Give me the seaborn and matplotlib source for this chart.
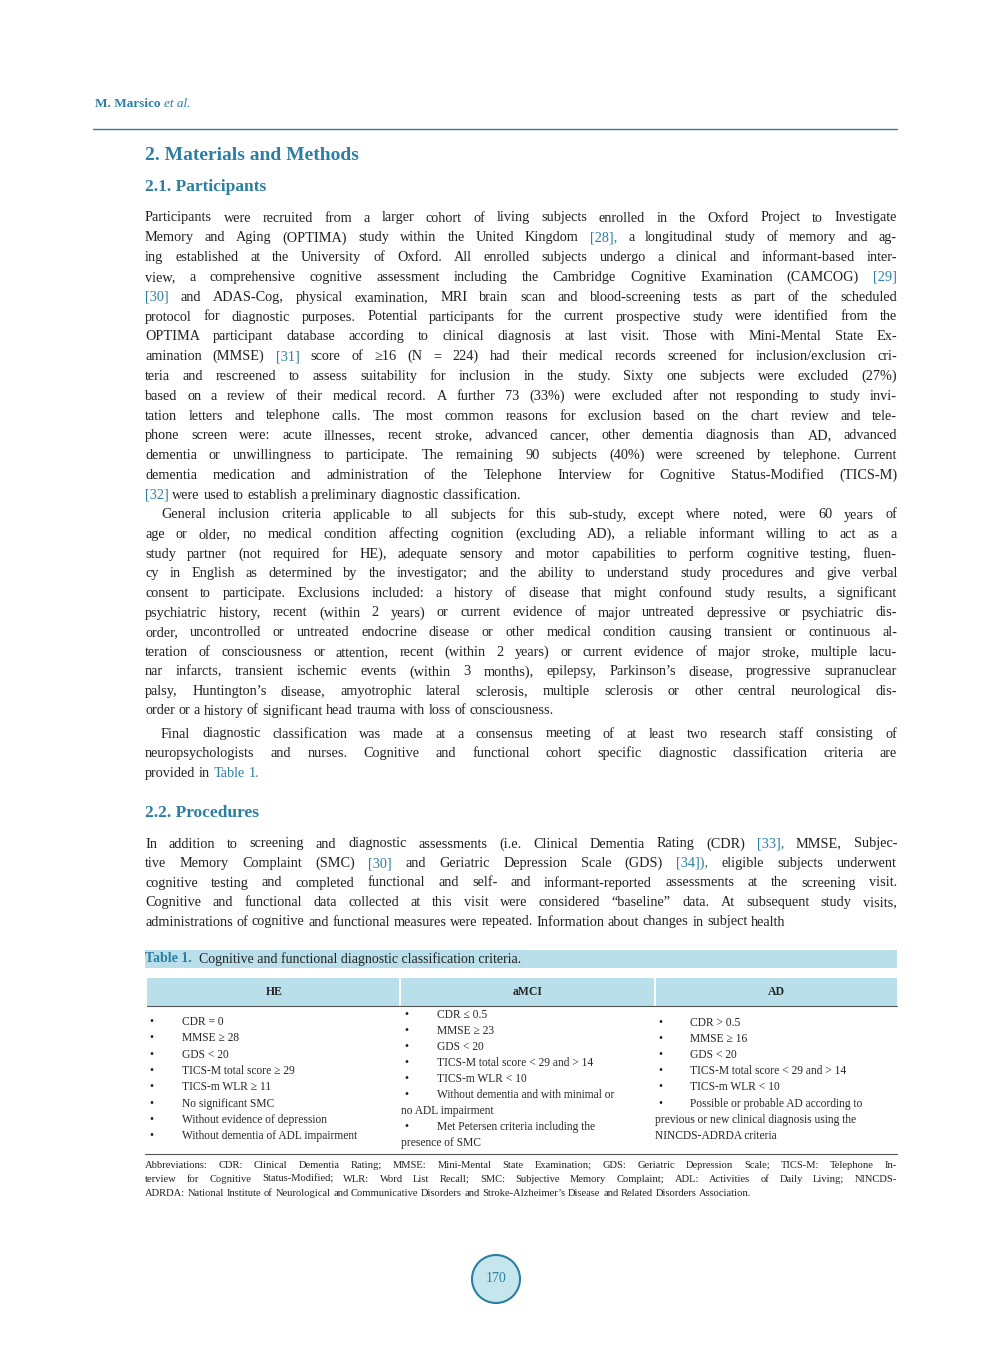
import matplotlib
matplotlib.use("Agg")
import matplotlib.pyplot as plt
from matplotlib.patches import Rectangle, Circle
import seaborn as sns

sns.set_style("white")
plt.rcParams['font.family'] = ['Liberation Serif', 'DejaVu Serif']

TEAL = "#2b7fa3"
LIGHT = "#b9dfea"

header = "M. Marsico"
section = "2. Materials and Methods"
sub1 = "2.1. Participants"
sub2 = "2.2. Procedures"

para1 = [
    "Participants were recruited from a larger cohort of living subjects enrolled in the Oxford Project to Investigate",
    "Memory and Aging (OPTIMA) study within the United Kingdom [28], a longitudinal study of memory and ag-",
    "ing established at the University of Oxford. All enrolled subjects undergo a clinical and informant-based inter-",
    "view, a comprehensive cognitive assessment including the Cambridge Cognitive Examination (CAMCOG) [29]",
    "[30] and ADAS-Cog, physical examination, MRI brain scan and blood-screening tests as part of the scheduled",
    "protocol for diagnostic purposes. Potential participants for the current prospective study were identified from the",
    "OPTIMA participant database according to clinical diagnosis at last visit. Those with Mini-Mental State Ex-",
    "amination (MMSE) [31] score of ≥16 (N = 224) had their medical records screened for inclusion/exclusion cri-",
    "teria and rescreened to assess suitability for inclusion in the study. Sixty one subjects were excluded (27%)",
    "based on a review of their medical record. A further 73 (33%) were excluded after not responding to study invi-",
    "tation letters and telephone calls. The most common reasons for exclusion based on the chart review and tele-",
    "phone screen were: acute illnesses, recent stroke, advanced cancer, other dementia diagnosis than AD, advanced",
    "dementia or unwillingness to participate. The remaining 90 subjects (40%) were screened by telephone. Current",
    "dementia medication and administration of the Telephone Interview for Cognitive Status-Modified (TICS-M)",
    "[32] were used to establish a preliminary diagnostic classification.",
]
para2 = [
    "General inclusion criteria applicable to all subjects for this sub-study, except where noted, were 60 years of",
    "age or older, no medical condition affecting cognition (excluding AD), a reliable informant willing to act as a",
    "study partner (not required for HE), adequate sensory and motor capabilities to perform cognitive testing, fluen-",
    "cy in English as determined by the investigator; and the ability to understand study procedures and give verbal",
    "consent to participate. Exclusions included: a history of disease that might confound study results, a significant",
    "psychiatric history, recent (within 2 years) or current evidence of major untreated depressive or psychiatric dis-",
    "order, uncontrolled or untreated endocrine disease or other medical condition causing transient or continuous al-",
    "teration of consciousness or attention, recent (within 2 years) or current evidence of major stroke, multiple lacu-",
    "nar infarcts, transient ischemic events (within 3 months), epilepsy, Parkinson’s disease, progressive supranuclear",
    "palsy, Huntington’s disease, amyotrophic lateral sclerosis, multiple sclerosis or other central neurological dis-",
    "order or a history of significant head trauma with loss of consciousness.",
]
para3 = [
    "Final diagnostic classification was made at a consensus meeting of at least two research staff consisting of",
    "neuropsychologists and nurses. Cognitive and functional cohort specific diagnostic classification criteria are",
    "provided in Table 1.",
]
para4 = [
    "In addition to screening and diagnostic assessments (i.e. Clinical Dementia Rating (CDR) [33], MMSE, Subjec-",
    "tive Memory Complaint (SMC) [30] and Geriatric Depression Scale (GDS) [34]), eligible subjects underwent",
    "cognitive testing and completed functional and self- and informant-reported assessments at the screening visit.",
    "Cognitive and functional data collected at this visit were considered “baseline” data. At subsequent study visits,",
    "administrations of cognitive and functional measures were repeated. Information about changes in subject health",
]
teal_tokens = {"[28],", "[29]", "[30]", "[31]", "[32]", "[33],", "[34]),", "Table", "1."}

col_names = ["HE", "aMCI", "AD"]
he_items = ["CDR = 0", "MMSE ≥ 28", "GDS < 20", "TICS-M total score ≥ 29", "TICS-m WLR ≥ 11",
            "No significant SMC", "Without evidence of depression", "Without dementia of ADL impairment"]
amci_lines = [("•", "CDR ≤ 0.5"), ("•", "MMSE ≥ 23"), ("•", "GDS < 20"),
              ("•", "TICS-M total score < 29 and > 14"), ("•", "TICS-m WLR < 10"),
              ("•", "Without dementia and with minimal or"), ("", "no ADL impairment"),
              ("•", "Met Petersen criteria including the"), ("", "presence of SMC")]
ad_lines = [("•", "CDR > 0.5"), ("•", "MMSE ≥ 16"), ("•", "GDS < 20"),
            ("•", "TICS-M total score < 29 and > 14"), ("•", "TICS-m WLR < 10"),
            ("•", "Possible or probable AD according to"), ("", "previous or new clinical diagnosis using the"),
            ("", "NINCDS-ADRDA criteria")]
abbrev = [
    "Abbreviations: CDR: Clinical Dementia Rating; MMSE: Mini-Mental State Examination; GDS: Geriatric Depression Scale; TICS-M: Telephone In-",
    "terview for Cognitive Status-Modified; WLR: Word List Recall; SMC: Subjective Memory Complaint; ADL: Activities of Daily Living; NINCDS-",
    "ADRDA: National Institute of Neurological and Communicative Disorders and Stroke-Alzheimer’s Disease and Related Disorders Association.",
]
page_no = "170"

W, H = 992, 1347
fig = plt.figure(figsize=(W / 100, H / 100), dpi=100)
ax = fig.add_axes([0, 0, 1, 1])
ax.set_xlim(0, W)
ax.set_ylim(H, 0)
ax.axis("off")
renderer = fig.canvas.get_renderer()


def width(s, size):
    t = ax.text(0, 0, s, fontsize=size)
    w = t.get_window_extent(renderer).width
    t.remove()
    return w


def line(s, x0, x1, y, size, justify=True):
    words = s.split(" ")
    ws = [width(w, size) for w in words]
    if justify and len(words) > 1:
        gap = (x1 - x0 - sum(ws)) / (len(words) - 1)
    else:
        gap = width("a a", size) - width("aa", size)
    x = x0
    for w, wd in zip(words, ws):
        c = TEAL if w in teal_tokens else "#222222"
        ax.text(x, y, w, fontsize=size, color=c, va="center", ha="left")
        x += wd + gap


def paragraph(lines, y0, step, indent=0, size=10.3, x0=145, x1=897):
    for i, s in enumerate(lines):
        xs = x0 + (indent if i == 0 else 0)
        line(s, xs, x1, y0 + i * step, size, justify=(i < len(lines) - 1))


# header
ax.text(95, 104, header, fontsize=9.5, color=TEAL, va="center", fontweight="bold")
ax.text(95 + width(header + " ", 9.5) + 4, 104, "et al.", fontsize=9.5, color=TEAL,
        va="center", style="italic")
ax.plot([93, 897], [129, 129], color=TEAL, lw=1)

ax.text(145, 155, section, fontsize=14, color=TEAL, fontweight="bold", va="center")
ax.text(145, 187, sub1, fontsize=12.5, color=TEAL, fontweight="bold", va="center")

paragraph(para1, 218, 19.8)
paragraph(para2, 218 + 15 * 19.8, 19.6, indent=16)
paragraph(para3, 734, 19.6, indent=16)

ax.text(145, 813, sub2, fontsize=12.5, color=TEAL, fontweight="bold", va="center")
paragraph(para4, 844, 19.5)
# final line of procedures is justified too
# table caption
ax.add_patch(Rectangle((145, 950), 752, 18, color=LIGHT, lw=0))
ax.text(145, 959, "Table 1.", fontsize=10, color=TEAL, fontweight="bold", va="center")
ax.text(145 + width("Table 1. ", 10) + 6, 959,
        "Cognitive and functional diagnostic classification criteria.",
        fontsize=10, color="#222222", va="center")

# table header
ax.add_patch(Rectangle((147, 978), 750, 28, color=LIGHT, lw=0))
for xs in [400, 655]:
    ax.plot([xs, xs], [978, 1006], color="white", lw=1.5)
ax.plot([147, 897], [1006, 1006], color="#555555", lw=0.8)
for name, xc in zip(col_names, [274, 528, 776]):
    ax.text(xc, 992, name, fontsize=8.5, fontweight="bold", ha="center", va="center")

fs = 8.3
for i, s in enumerate(he_items):
    y = 1022 + i * 16.3
    ax.text(149, y, "•", fontsize=fs, va="center")
    ax.text(182, y, s, fontsize=fs, va="center")
for i, (b, s) in enumerate(amci_lines):
    y = 1015 + i * 16
    if b:
        ax.text(404, y, b, fontsize=fs, va="center")
        ax.text(437, y, s, fontsize=fs, va="center")
    else:
        ax.text(401, y, s, fontsize=fs, va="center")
for i, (b, s) in enumerate(ad_lines):
    y = 1023 + i * 16.1
    if b:
        ax.text(658, y, b, fontsize=fs, va="center")
        ax.text(690, y, s, fontsize=fs, va="center")
    else:
        ax.text(655, y, s, fontsize=fs, va="center")
ax.plot([145, 897], [1154, 1154], color="#555555", lw=0.8)

for i, s in enumerate(abbrev):
    line(s, 145, 897, 1165 + i * 14, 7.6, justify=(i < 2))

ax.add_patch(Circle((496, 1279), 24, facecolor="#c6e6ee", edgecolor=TEAL, lw=1.5))
ax.text(496, 1279, page_no, fontsize=10, color=TEAL, ha="center", va="center")

fig.savefig("out.png", dpi=100)
